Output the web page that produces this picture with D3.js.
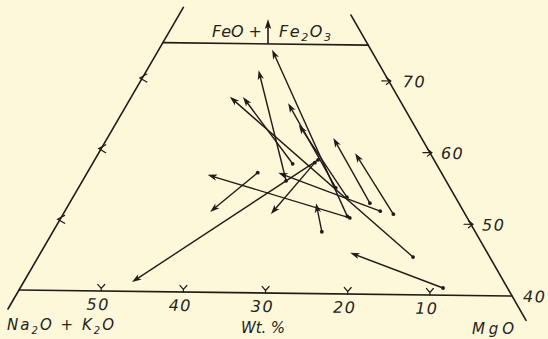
<!DOCTYPE html>
<html>
<head>
<meta charset="utf-8">
<script src="https://cdn.jsdelivr.net/npm/d3@7"></script>
<style>
  html, body { margin: 0; padding: 0; background: #fcf8d9; }
  svg { display: block; }
  text { font-family: "DejaVu Sans", sans-serif; font-style: oblique; fill: #27221d; }
</style>
</head>
<body>
<svg id="chart" width="548" height="339"></svg>
<script>
// Change in composition of each sample, wt.% Na2O+K2O (A) and FeO+Fe2O3 (F);
// MgO makes up the remainder. Each arrow runs from the first analysis to the second.
const fromA = [7.9, 9.4, 8.8, 10.9, 10.2, 14.4, 18.8, 22.5, 14.2, 14.8, 17.6, 19.6, 14.6, 13.3, 14.0];
const fromF = [41.0, 45.3, 51.3, 52.8, 51.7, 50.7, 48.7, 56.9, 58.8, 58.4, 58.2, 55.8, 50.9, 53.6, 54.9];
const toA   = [16.8, 20.6, 9.2, 10.8, 20.0, 28.8, 17.5, 31.1, 45.6, 23.8, 19.0, 15.2, 12.1, 14.1, 13.9];
const toF   = [45.8, 67.5, 59.8, 61.9, 56.9, 56.5, 52.7, 51.3, 41.3, 51.1, 67.5, 71.3, 74.2, 63.7, 66.7];

// Axis ticks
const bottomTicks = [50, 40, 30, 20, 10];   // Na2O+K2O along the F = 40 line
const leftTicks   = [50, 60, 70];           // FeO+Fe2O3 on the MgO-free edge
const rightTicks  = [50, 60, 70];           // FeO+Fe2O3 on the alkali-free edge
const rightLabels = [40, 50, 60, 70];

const ink = "#211c18";
const svg = d3.select("#chart");

// Ternary projection: side of the full triangle is 821.7 px
const side = 821.7;
const h = Math.sqrt(3) / 2;
const xs = d3.scaleLinear().domain([0, 100]).range([-145.3, -145.3 + side]);
const ys = d3.scaleLinear().domain([0, 100]).range([574.6, 574.6 - side]);
function proj(A, F) {
  const M = 100 - A - F;
  return [xs(M + F / 2), ys(F * h)];
}

const g = svg.append("g")
  .attr("transform", "translate(19,290) skewY(0.7) translate(-19,-290)");

const line = d3.line();

// Frame: the two triangle edges, the F = 40 base and the F = 75 cut-off
const frame = g.append("g").attr("fill", "none").attr("stroke", ink)
  .attr("stroke-width", 1.6).attr("stroke-linecap", "round");
frame.append("path").attr("d", line([proj(100 - 37.3, 37.3), proj(100 - 80, 80)]));
frame.append("path").attr("d", line([proj(0, 36.6), proj(0, 79.2)]));
frame.append("path").attr("d", line([proj(60, 40), proj(0, 40)]));
frame.append("path").attr("d", line([proj(25, 75), proj(0, 75)]));

// Ticks
const ticks = g.append("g").attr("fill", "none").attr("stroke", ink)
  .attr("stroke-width", 1.2).attr("stroke-linecap", "round");
bottomTicks.forEach(a => {
  const [px, py] = proj(a, 40);
  ticks.append("path")
    .attr("d", `M${px - 3.5},${py - 6.5} L${px},${py - 2.5} L${px + 3.5},${py - 6.5} M${px},${py - 2.5} V${py}`);
});
leftTicks.forEach(f => {
  const [px, py] = proj(100 - f, f);
  ticks.append("path")
    .attr("d", `M${px + 4.5},${py - 4} L${px - 2.5},${py} L${px + 4.5},${py + 4}`);
});
rightTicks.forEach(f => {
  const [px, py] = proj(0, f);
  ticks.append("path")
    .attr("d", `M${px - 7},${py} H${px + 2} M${px - 2.5},${py - 3.5} L${px + 2},${py} L${px - 2.5},${py + 3.5}`);
});

// Tick labels
bottomTicks.forEach(a => {
  const [px, py] = proj(a, 40);
  g.append("text").attr("x", px - 3).attr("y", py + 19)
    .attr("text-anchor", "middle").attr("font-size", 16).attr("letter-spacing", 1.5)
    .text(a);
});
rightLabels.forEach(f => {
  const [px, py] = proj(0, f);
  g.append("text").attr("x", px + (f === 70 ? 14 : 11)).attr("y", py + 6)
    .attr("font-size", 16).attr("letter-spacing", 1.5)
    .text(f);
});

// Arrows
const arrows = g.append("g");
fromA.forEach((a, i) => {
  const p0 = proj(a, fromF[i]);
  const p1 = proj(toA[i], toF[i]);
  const dx = p1[0] - p0[0], dy = p1[1] - p0[1];
  const len = Math.hypot(dx, dy);
  const ux = dx / len, uy = dy / len;
  const nx = -uy, ny = ux;
  const hl = 9.5, hw = 3.2;
  arrows.append("path")
    .attr("d", line([p0, [p1[0] - ux * 5, p1[1] - uy * 5]]))
    .attr("stroke", ink).attr("stroke-width", 1.4).attr("fill", "none");
  const bx = p1[0] - ux * hl, by = p1[1] - uy * hl;
  arrows.append("path")
    .attr("d", `M${p1[0]},${p1[1]} L${bx + nx * hw},${by + ny * hw} L${p1[0] - ux * 7},${p1[1] - uy * 7} L${bx - nx * hw},${by - ny * hw} Z`)
    .attr("fill", ink);
  arrows.append("circle").attr("cx", p0[0]).attr("cy", p0[1]).attr("r", 1.9).attr("fill", ink);
});

// Apex label with its arrow
const [tx, ty] = proj(12.2, 75);
g.append("path").attr("d", line([[tx, ty], [tx, ty - 18]]))
  .attr("stroke", ink).attr("stroke-width", 1.6);
g.append("path")
  .attr("d", `M${tx},${ty - 25} L${tx - 3.2},${ty - 15} L${tx},${ty - 17} L${tx + 3.2},${ty - 15} Z`)
  .attr("fill", ink);

svg.append("text").attr("x", 212).attr("y", 37).attr("font-size", 16)
  .attr("textLength", 50).attr("lengthAdjust", "spacing")
  .text("FeO +");
const fe = svg.append("text").attr("x", 279).attr("y", 37).attr("font-size", 16)
  .attr("textLength", 52).attr("lengthAdjust", "spacing");
fe.append("tspan").text("Fe");
fe.append("tspan").attr("dy", 4).attr("font-size", 11).text("2");
fe.append("tspan").attr("dy", -4).text("O");
fe.append("tspan").attr("dy", 4).attr("font-size", 11).text("3");

// Corner and axis titles
const na = svg.append("text").attr("x", 7).attr("y", 330).attr("font-size", 15)
  .attr("textLength", 107).attr("lengthAdjust", "spacing");
na.append("tspan").text("Na");
na.append("tspan").attr("dy", 3.5).attr("font-size", 10).text("2");
na.append("tspan").attr("dy", -3.5).text("O + K");
na.append("tspan").attr("dy", 3.5).attr("font-size", 10).text("2");
na.append("tspan").attr("dy", -3.5).text("O");

svg.append("text").attr("x", 241).attr("y", 333).attr("font-size", 15)
  .attr("textLength", 44).attr("lengthAdjust", "spacing")
  .text("Wt. %");

svg.append("text").attr("x", 472).attr("y", 334).attr("font-size", 15)
  .attr("textLength", 42).attr("lengthAdjust", "spacing")
  .text("MgO");
</script>
</body>
</html>
